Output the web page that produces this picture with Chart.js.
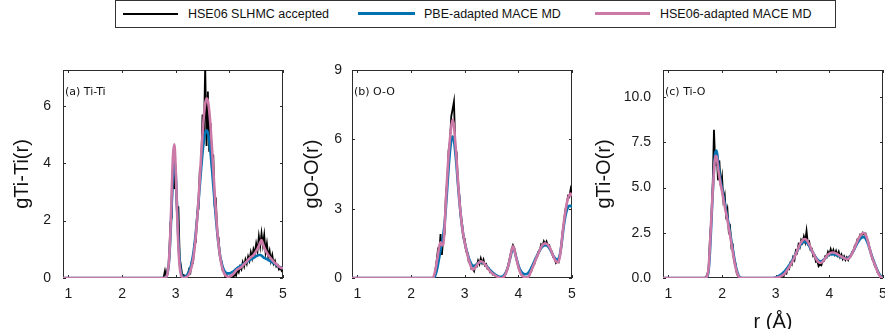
<!DOCTYPE html>
<html><head><meta charset="utf-8">
<script src="https://cdn.jsdelivr.net/npm/chart.js@4.4.1/dist/chart.umd.min.js"></script>
<style>
html,body{margin:0;padding:0;background:#fff;overflow:hidden;width:885px;height:329px;position:relative;}
canvas{position:absolute;left:0;top:0;}
.lg{position:absolute;font-family:"Liberation Sans",Arial,sans-serif;font-size:12.5px;color:#111;white-space:nowrap;line-height:16px;top:6px;}
.sw{position:absolute;}
#lbox{position:absolute;left:115px;top:0;width:721px;height:28px;border:1px solid #333;box-sizing:border-box;}
</style></head><body>
<div id="lbox"></div>
<div class="sw" style="left:123px;top:13px;width:55px;height:2px;background:#000"></div>
<div class="lg" style="left:188px">HSE06 SLHMC accepted</div>
<div class="sw" style="left:358px;top:12px;width:57px;height:3px;background:#0072B2"></div>
<div class="lg" style="left:424px">PBE-adapted MACE MD</div>
<div class="sw" style="left:595px;top:12px;width:55px;height:3px;background:#CC79A7"></div>
<div class="lg" style="left:660px">HSE06-adapted MACE MD</div>
<canvas id="cA" width="900" height="335" style="width:900px;height:335px"></canvas>
<canvas id="cB" width="900" height="335" style="width:900px;height:335px"></canvas>
<canvas id="cC" width="900" height="335" style="width:900px;height:335px"></canvas>
<script>
const xTicks = [1,2,3,4,5];
const yTicksA = [0,2,4,6];
const yTicksB = [0,3,6,9];
const yTicksC = [0,2.5,5,7.5,10];

const rA = [0.9,
2.750,2.775,2.800,2.825,2.850,2.875,2.900,2.925,2.950,2.975,
3.000,3.025,3.050,3.075,3.100,3.125,3.150,3.175,3.200,3.225,
3.250,3.275,3.300,3.325,3.350,3.375,3.400,3.425,3.450,3.475,
3.500,3.525,3.550,3.575,3.600,3.625,3.650,3.675,3.700,3.725,
3.750,3.775,3.800,3.825,3.850,3.875,3.900,3.925,3.950,3.975,
4.000,4.025,4.050,4.075,4.100,4.125,4.150,4.175,4.200,4.225,
4.250,4.275,4.300,4.325,4.350,4.375,4.400,4.425,4.450,4.475,
4.500,4.525,4.550,4.575,4.600,4.625,4.650,4.675,4.700,4.725,
4.750,4.775,4.800,4.825,4.850,4.875,4.900,4.925,4.950,4.975,
5.000];
const pinkA = [0,
0,0,0.01,0.04,0.18,0.61,1.54,2.95,4.27,4.66,
3.81,2.35,1.10,0.39,0.10,0.02,0.00,0.01,0.03,0.07,
0.14,0.25,0.41,0.65,1.00,1.46,2.03,2.72,3.48,4.27,
5.01,5.64,6.07,6.26,6.17,5.83,5.28,4.58,3.80,3.02,
2.30,1.67,1.17,0.78,0.50,0.30,0.18,0.10,0.06,0.04,
0.05,0.07,0.10,0.14,0.20,0.26,0.30,0.33,0.35,0.38,
0.43,0.48,0.53,0.58,0.63,0.68,0.72,0.76,0.80,0.86,
0.94,1.02,1.12,1.24,1.32,1.20,1.06,0.96,0.88,0.80,
0.74,0.68,0.62,0.57,0.52,0.48,0.44,0.40,0.37,0.35,
0.33];
const blueA = [0,
0,0,0.01,0.05,0.18,0.56,1.35,2.52,3.66,4.15,
3.66,2.52,1.35,0.56,0.18,0.06,0.03,0.04,0.08,0.14,
0.23,0.36,0.55,0.81,1.15,1.58,2.08,2.65,3.24,3.83,
4.36,4.78,5.06,5.15,5.06,4.78,4.36,3.83,3.24,2.65,
2.08,1.58,1.15,0.81,0.57,0.40,0.28,0.21,0.17,0.16,
0.16,0.18,0.20,0.23,0.27,0.31,0.35,0.38,0.41,0.44,
0.47,0.50,0.53,0.56,0.59,0.62,0.65,0.67,0.70,0.73,
0.76,0.78,0.80,0.80,0.78,0.74,0.70,0.68,0.66,0.63,
0.61,0.58,0.55,0.52,0.49,0.46,0.43,0.40,0.38,0.36,
0.35];
const blackA = [0,
0,0.02,0.25,0.00,0.35,0.45,1.90,2.10,3.90,3.10,
3.70,2.20,2.50,0.70,0.40,0.05,0.10,0.00,0.05,0.12,
0.30,0.20,0.60,0.55,1.20,1.25,2.30,2.40,3.80,3.90,
5.70,4.90,7.40,4.60,6.50,4.40,5.40,3.80,4.30,2.60,
2.70,1.50,1.40,0.70,0.60,0.25,0.22,0.05,0.10,0.00,
0.03,0.00,0.05,0.02,0.15,0.08,0.30,0.20,0.40,0.30,
0.55,0.40,0.65,0.50,0.75,0.60,0.90,0.70,1.00,0.85,
1.20,0.95,1.45,1.10,1.55,1.15,1.50,0.90,1.20,0.75,
0.95,0.60,0.80,0.50,0.60,0.40,0.45,0.30,0.35,0.25,
0.30];

const rB = [0.9,
2.375,2.400,2.425,2.450,2.475,2.500,2.525,2.550,2.575,2.600,
2.625,2.650,2.675,2.700,2.725,2.750,2.775,2.800,2.825,2.850,
2.875,2.900,2.925,2.950,2.975,3.000,3.025,3.050,3.075,3.100,
3.125,3.150,3.175,3.200,3.225,3.250,3.275,3.300,3.325,3.350,
3.375,3.400,3.425,3.450,3.475,3.500,3.525,3.550,3.575,3.600,
3.625,3.650,3.675,3.700,3.725,3.750,3.775,3.800,3.825,3.850,
3.875,3.900,3.925,3.950,3.975,4.000,4.025,4.050,4.075,4.100,
4.125,4.150,4.175,4.200,4.225,4.250,4.275,4.300,4.325,4.350,
4.375,4.400,4.425,4.450,4.475,4.500,4.525,4.550,4.575,4.600,
4.625,4.650,4.675,4.700,4.725,4.750,4.775,4.800,4.825,4.850,
4.875,4.900,4.925,4.950,4.975,5.000];
const pinkB = [0,
0,0,0.08,0.30,0.62,0.98,1.35,1.55,1.42,1.45,
2.15,3.35,4.40,5.30,6.00,6.55,6.84,6.60,5.85,5.10,
4.20,3.40,2.80,2.25,1.85,1.55,1.27,1.02,0.80,0.60,
0.45,0.37,0.38,0.46,0.55,0.63,0.69,0.72,0.71,0.67,
0.60,0.52,0.44,0.36,0.29,0.23,0.18,0.14,0.10,0.06,
0.03,0.01,0.00,0.00,0.04,0.12,0.25,0.42,0.65,0.92,
1.20,1.37,1.25,0.98,0.72,0.48,0.30,0.17,0.10,0.05,
0.02,0.00,0.03,0.10,0.22,0.36,0.50,0.65,0.80,0.94,
1.08,1.22,1.34,1.43,1.48,1.50,1.48,1.44,1.36,1.25,
1.10,0.95,0.82,0.72,0.68,0.72,0.95,1.40,1.95,2.45,
2.85,3.20,3.45,3.60,3.65,3.55];
const blueB = [0,
0,0,0.02,0.10,0.28,0.55,0.88,1.20,1.50,1.85,
2.35,3.05,3.90,4.75,5.45,5.95,6.12,5.95,5.45,4.80,
4.05,3.35,2.75,2.25,1.85,1.55,1.30,1.08,0.88,0.72,
0.60,0.53,0.52,0.55,0.60,0.65,0.68,0.69,0.68,0.65,
0.60,0.54,0.47,0.40,0.34,0.28,0.23,0.18,0.14,0.10,
0.07,0.05,0.05,0.06,0.10,0.17,0.28,0.44,0.64,0.88,
1.12,1.27,1.20,0.98,0.76,0.56,0.40,0.29,0.22,0.18,
0.16,0.17,0.20,0.27,0.36,0.48,0.60,0.73,0.86,0.98,
1.09,1.20,1.29,1.36,1.40,1.42,1.41,1.37,1.30,1.20,
1.08,0.97,0.88,0.82,0.80,0.84,1.02,1.38,1.85,2.30,
2.65,2.90,3.05,3.12,3.12,3.08];
const blackB = [0,
0,0,0.05,0.25,0.70,1.20,1.05,1.90,1.00,1.70,
1.90,3.60,4.20,5.50,5.90,7.00,7.30,7.63,5.70,5.40,
4.00,3.60,2.70,2.40,1.75,1.70,1.15,1.10,0.70,0.65,
0.40,0.42,0.30,0.55,0.50,0.75,0.60,0.85,0.65,0.80,
0.55,0.60,0.40,0.42,0.25,0.28,0.15,0.18,0.08,0.08,
0.02,0.02,0.00,0.00,0.05,0.10,0.30,0.40,0.70,0.95,
1.25,1.42,1.30,1.00,0.75,0.45,0.32,0.15,0.12,0.03,
0.03,0.00,0.05,0.08,0.25,0.33,0.55,0.60,0.85,0.90,
1.15,1.20,1.45,1.38,1.58,1.45,1.58,1.40,1.42,1.20,
1.15,0.90,0.85,0.65,0.72,0.68,1.00,1.35,2.00,2.40,
2.95,3.15,3.55,3.50,3.85,3.60];

const rC = [0.9,
1.650,1.675,1.700,1.725,1.750,1.775,1.800,1.825,1.850,1.875,
1.900,1.925,1.950,1.975,2.000,2.025,2.050,2.075,2.100,2.125,
2.150,2.175,2.200,2.225,2.250,2.275,2.300,2.325,2.350,2.375,
2.400,
2.950,2.975,3.000,3.025,3.050,3.075,3.100,3.125,3.150,3.175,
3.200,3.225,3.250,3.275,3.300,3.325,3.350,3.375,3.400,3.425,
3.450,3.475,3.500,3.525,3.550,3.575,3.600,3.625,3.650,3.675,
3.700,3.725,3.750,3.775,3.800,3.825,3.850,3.875,3.900,3.925,
3.950,3.975,4.000,4.025,4.050,4.075,4.100,4.125,4.150,4.175,
4.200,4.225,4.250,4.275,4.300,4.325,4.350,4.375,4.400,4.425,
4.450,4.475,4.500,4.525,4.550,4.575,4.600,4.625,4.650,4.675,
4.700,4.725,4.750,4.775,4.800,4.825,4.850,4.875,4.900,4.925,
4.950,4.975,5.000];
const pinkC = [0,
0,0,0.02,0.12,0.55,1.80,3.30,4.70,5.90,6.75,
6.70,6.10,5.60,5.15,4.80,4.35,3.96,3.60,3.20,2.80,
2.35,1.90,1.45,1.00,0.62,0.32,0.13,0.04,0.00,0.00,
0,
0,0,0.01,0.02,0.04,0.07,0.10,0.14,0.19,0.27,
0.37,0.48,0.60,0.73,0.86,1.00,1.15,1.32,1.50,1.68,
1.85,1.98,2.08,2.14,2.15,2.10,2.00,1.85,1.70,1.52,
1.36,1.22,1.08,0.96,0.88,0.84,0.85,0.90,0.99,1.10,
1.20,1.29,1.35,1.39,1.41,1.41,1.39,1.36,1.32,1.27,
1.22,1.18,1.14,1.10,1.07,1.05,1.06,1.12,1.22,1.36,
1.52,1.70,1.88,2.05,2.20,2.32,2.42,2.48,2.49,2.40,
2.22,1.95,1.65,1.35,1.10,0.90,0.72,0.52,0.34,0.19,
0.08,0.02,0];
const blueC = [0,
0,0,0.01,0.08,0.40,1.45,3.00,4.60,6.00,6.95,
7.05,6.45,5.85,5.35,4.95,4.55,4.15,3.75,3.35,2.95,
2.50,2.05,1.60,1.15,0.75,0.42,0.20,0.07,0.02,0.00,
0,
0,0.01,0.03,0.06,0.10,0.14,0.19,0.25,0.32,0.40,
0.49,0.59,0.70,0.81,0.93,1.06,1.20,1.35,1.50,1.64,
1.77,1.88,1.96,2.00,2.00,1.96,1.88,1.77,1.64,1.50,
1.37,1.24,1.13,1.03,0.96,0.93,0.93,0.96,1.02,1.10,
1.18,1.25,1.29,1.31,1.32,1.31,1.29,1.27,1.24,1.21,
1.18,1.15,1.12,1.10,1.08,1.08,1.10,1.16,1.25,1.37,
1.50,1.65,1.80,1.94,2.06,2.16,2.23,2.26,2.25,2.18,
2.04,1.85,1.62,1.38,1.15,0.95,0.76,0.57,0.40,0.25,
0.13,0.05,0.01];
const blackC = [0,
0,0,0.05,0.20,0.50,2.20,3.20,5.00,8.20,6.20,
6.90,5.40,6.50,5.10,5.60,4.30,4.60,3.50,3.80,2.60,
2.80,1.70,1.80,0.90,0.80,0.25,0.10,0.05,0.00,0.00,
0,
0,0,0.00,0.02,0.00,0.05,0.03,0.12,0.10,0.30,
0.25,0.55,0.50,0.85,0.75,1.15,1.00,1.50,1.40,1.85,
1.70,2.10,1.95,2.30,2.00,2.60,1.90,2.00,1.55,1.60,
1.20,1.25,0.90,0.95,0.65,0.75,0.70,0.90,0.95,1.20,
1.15,1.45,1.30,1.60,1.35,1.55,1.30,1.50,1.25,1.45,
1.15,1.30,1.05,1.20,1.00,1.15,1.00,1.20,1.20,1.45,
1.50,1.80,1.85,2.15,2.15,2.40,2.35,2.50,2.40,2.45,
2.15,2.00,1.60,1.40,1.05,0.95,0.65,0.55,0.30,0.20,
0.06,0.02,0];

const BLACK = '#000000', BLUE = '#0072B2', PINK = '#CC79A7';
const FONT = '"Liberation Sans", Arial, sans-serif';
const pts = (r, v) => r.map((x, i) => ({x: x, y: v[i]}));

const framePlugin = {
  id: 'frame',
  beforeDatasetsDraw(chart, args, opts) {
    const {ctx, chartArea: {left, top, right, bottom}, scales: {x, y}} = chart;
    ctx.save();
    ctx.strokeStyle = '#2b2b2b';
    ctx.lineWidth = 1;
    ctx.strokeRect(left + 0.5, top + 0.5, right - left - 1, bottom - top - 1);
    ctx.beginPath();
    x.ticks.forEach(t => {
      const p = Math.round(x.getPixelForValue(t.value)) + 0.5;
      ctx.moveTo(p, bottom); ctx.lineTo(p, bottom - 3);
      ctx.moveTo(p, top); ctx.lineTo(p, top + 3);
    });
    y.ticks.forEach(t => {
      const p = Math.round(y.getPixelForValue(t.value)) + 0.5;
      ctx.moveTo(left, p); ctx.lineTo(left + 3, p);
      ctx.moveTo(right, p); ctx.lineTo(right - 3, p);
    });
    ctx.stroke();
    ctx.fillStyle = '#111';
    ctx.font = '11px "DejaVu Sans"';
    ctx.textBaseline = 'middle';
    ctx.textAlign = 'left';
    ctx.fillText(opts.label, left + 2, 92);
    ctx.restore();
  }
};

function makePanel(id, p) {
  return new Chart(document.getElementById(id), {
    type: 'line',
    data: {datasets: [
      {label: 'HSE06-adapted MACE MD', data: pts(p.r, p.pink), borderColor: PINK, borderWidth: 2.6, order: 1, cubicInterpolationMode: 'monotone'},
      {label: 'PBE-adapted MACE MD', data: pts(p.r, p.blue), borderColor: BLUE, borderWidth: 2.6, order: 2, cubicInterpolationMode: 'monotone'},
      {label: 'HSE06 SLHMC accepted', data: pts(p.r, p.black), borderColor: BLACK, borderWidth: 1.8, order: 3, tension: 0}
    ]},
    options: {
      responsive: false, animation: false, devicePixelRatio: 1,
      layout: {padding: {left: p.padL, right: 900 - p.right, top: 70, bottom: 0}},
      elements: {point: {radius: 0}, line: {fill: false}},
      plugins: {legend: {display: false}, tooltip: {enabled: false}, frame: {label: p.label}},
      scales: {
        x: {
          type: 'linear', min: 0.9, max: 5,
          afterBuildTicks: s => { s.ticks = xTicks.map(v => ({value: v})); },
          afterFit: s => { s.height = 57; },
          grid: {display: false, drawTicks: false}, border: {display: false},
          ticks: {font: {family: FONT, size: 14}, color: '#1a1a1a', padding: 8, autoSkip: false, maxRotation: 0, callback: v => String(v)},
          title: {display: !!p.xTitle, text: p.xTitle || '', font: {family: FONT, size: 20, lineHeight: 1}, color: '#111', padding: {top: 0, bottom: 2.5}}
        },
        y: {
          type: 'linear', min: 0, max: p.ymax,
          afterBuildTicks: s => { s.ticks = p.yTicks.map(v => ({value: v})); },
          afterFit: s => { s.width = p.yW; },
          grid: {display: false, drawTicks: false}, border: {display: false},
          ticks: {font: {family: FONT, size: 14}, color: '#1a1a1a', padding: p.tickPad, autoSkip: false, callback: p.fmt},
          title: {display: true, text: p.yTitle, font: {family: FONT, size: 20, lineHeight: 1}, color: '#111', padding: 0}
        }
      }
    },
    plugins: [framePlugin]
  });
}

makePanel('cA', {r: rA, pink: pinkA, blue: blueA, black: blackA, padL: 12, yW: 51, right: 283,
  ymax: 7.25, yTicks: yTicksA, fmt: v => String(v), tickPad: 12, yTitle: 'gTi-Ti(r)', label: '(a) Ti-Ti'});
makePanel('cB', {r: rB, pink: pinkB, blue: blueB, black: blackB, padL: 302, yW: 50, right: 572,
  ymax: 9, yTicks: yTicksB, fmt: v => String(v), tickPad: 10, yTitle: 'gO-O(r)', label: '(b) O-O'});
makePanel('cC', {r: rC, pink: pinkC, blue: blueC, black: blackC, padL: 594, yW: 69, right: 883,
  ymax: 11.5, yTicks: yTicksC, fmt: v => Number(v).toFixed(1), tickPad: 12, yTitle: 'gTi-O(r)', label: '(c) Ti-O', xTitle: 'r (Å)'});
</script>
</body></html>
